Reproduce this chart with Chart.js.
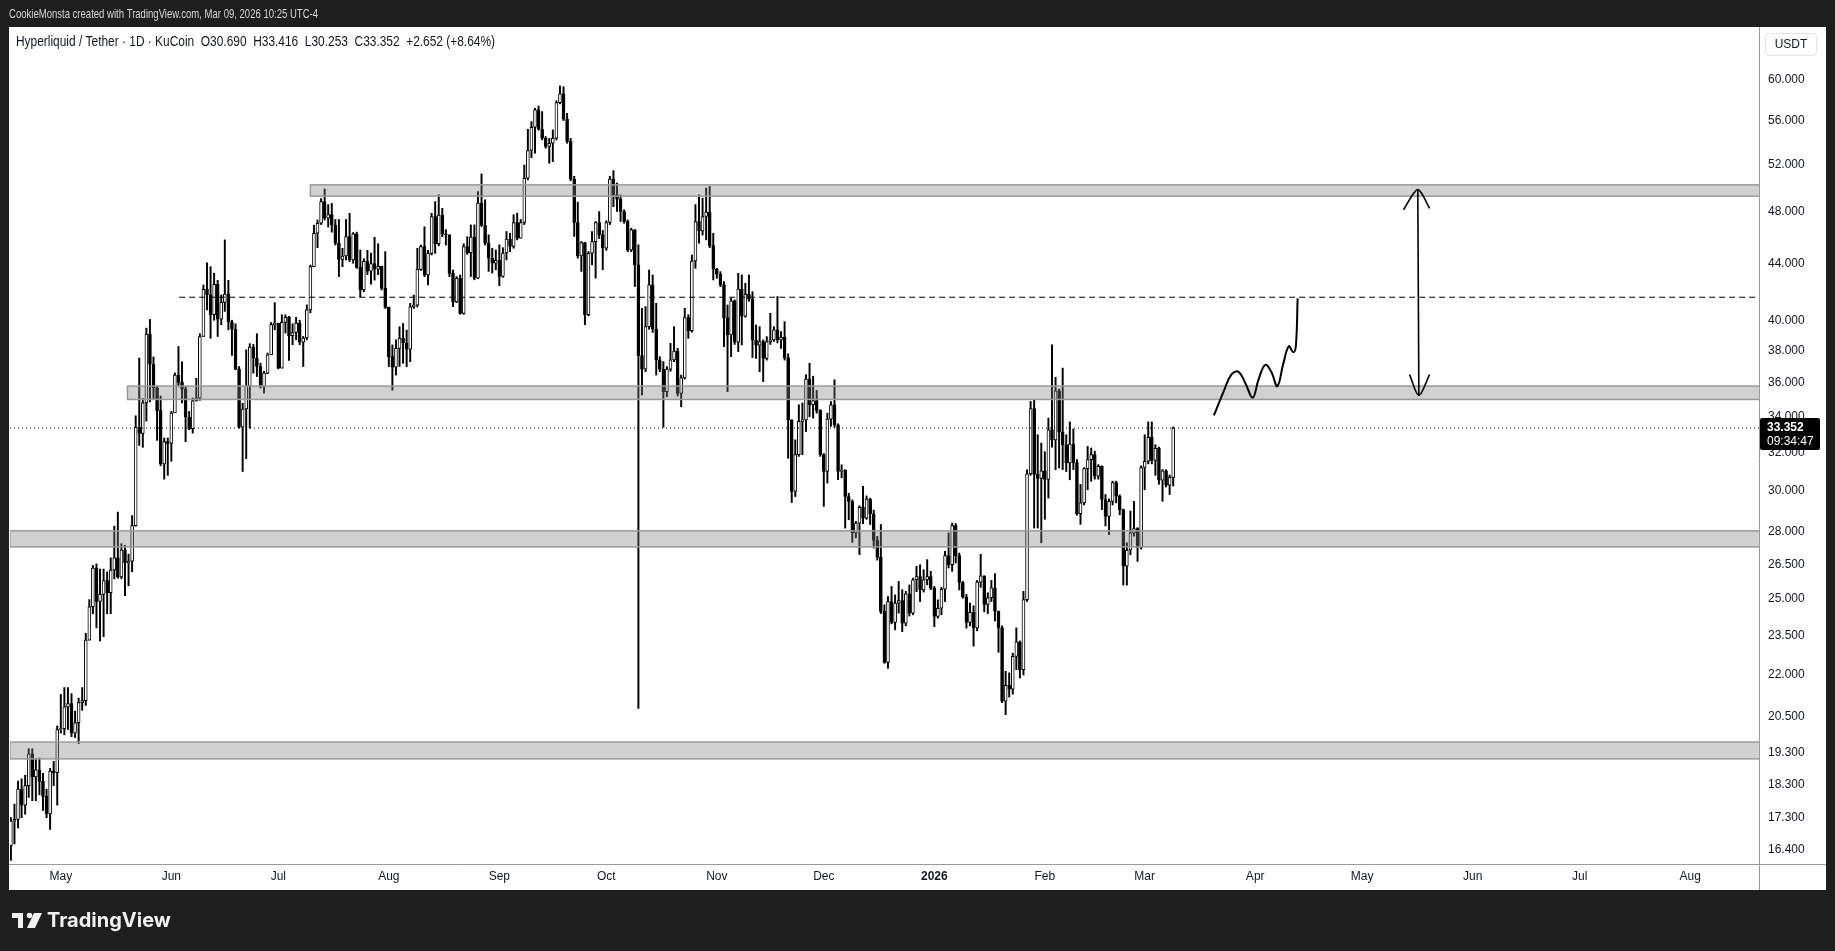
<!DOCTYPE html>
<html>
<head>
<meta charset="utf-8">
<title>Hyperliquid / Tether 1D</title>
<script src="https://cdn.jsdelivr.net/npm/chart.js@4.4.1/dist/chart.umd.min.js"></script>
<style>
  html, body { margin: 0; padding: 0; background: #1e1e1e; }
  canvas { display: block; }
</style>
</head>
<body>
<canvas id="chart" width="1835" height="951"></canvas>
<script>
// HYPE/USDT daily candles, day 0 = 17 Apr 2025, last = 9 Mar 2026
const firstOpen = 16.5;
const closes = [
  17.2, 17.25, 18.15, 17.67, 18.26, 19.26, 18.53, 18.75, 18.39, 17.93,
  17.41, 18.71, 18.66, 20.07, 20.1, 20.85, 20.97, 19.95, 20.3, 21.0,
  21.07, 23.33, 24.68, 26.34, 24.9, 25.2, 25.8, 25.27, 26.26, 26.8,
  25.95, 27.16, 26.57, 26.65, 28.3, 33.4, 33.06, 34.8, 39.08, 37.14,
  35.7, 34.35, 31.4, 32.6, 32.5, 34.21, 36.47, 36.02, 35.62, 33.98,
  33.32, 34.92, 35.08, 38.92, 42.14, 41.74, 40.37, 42.49, 40.07, 41.22,
  41.81, 39.9, 39.4, 36.84, 33.41, 34.44, 35.81, 38.23, 37.53, 37.0,
  35.78, 36.59, 37.74, 39.7, 39.8, 36.9, 39.85, 40.2, 38.97, 39.18,
  39.8, 38.54, 38.82, 40.7, 43.78, 46.31, 47.1, 48.85, 47.5, 47.8,
  46.96, 45.54, 44.32, 44.57, 46.05, 44.27, 46.26, 43.73, 42.09, 44.18,
  43.45, 44.0, 43.6, 43.8, 42.21, 40.88, 37.62, 36.95, 38.15, 38.79,
  38.51, 38.09, 40.92, 41.03, 43.58, 45.28, 43.17, 44.77, 47.63, 45.5,
  47.76, 46.26, 46.2, 43.29, 41.26, 42.93, 40.46, 45.28, 44.82, 46.01,
  42.94, 48.72, 46.92, 45.54, 44.41, 44.04, 44.24, 43.06, 44.8, 45.86,
  45.29, 47.16, 45.93, 47.16, 50.81, 53.24, 55.37, 57.01, 55.18, 54.35,
  53.6, 53.9, 54.35, 57.71, 58.57, 56.12, 54.07, 50.73, 47.16, 44.58,
  45.6, 40.37, 44.78, 45.67, 47.16, 46.19, 45.16, 47.16, 50.73, 49.41,
  49.05, 48.04, 47.24, 45.03, 46.58, 43.92, 37.68, 36.84, 39.57, 42.45,
  39.41, 37.41, 36.84, 35.46, 36.84, 37.41, 37.98, 35.36, 36.3, 40.18,
  39.3, 44.2, 47.24, 46.49, 47.64, 47.99, 45.36, 43.6, 43.22, 42.45,
  40.18, 39.02, 41.32, 38.54, 42.16, 40.27, 41.78, 41.45, 38.69, 38.36,
  38.58, 37.51, 38.58, 38.69, 39.35, 38.69, 38.86, 37.55, 33.82, 29.97,
  31.89, 33.73, 33.82, 36.23, 34.69, 34.94, 34.36, 31.89, 31.01, 33.86,
  34.69, 33.54, 31.01, 31.06, 29.72, 29.47, 27.95, 28.42, 29.18, 28.66,
  29.59, 28.87, 27.6, 26.84, 24.49, 22.47, 24.9, 24.04, 24.83, 24.94,
  24.01, 25.23, 24.42, 25.83, 25.97, 25.39, 25.83, 25.97, 25.47, 24.28,
  24.62, 25.42, 26.9, 26.5, 28.3, 26.9, 25.71, 25.09, 24.04, 24.45,
  23.82, 25.73, 26.0, 24.78, 25.06, 25.48, 24.5, 23.82, 21.05, 21.62,
  21.48, 22.7, 23.27, 22.2, 24.98, 30.88, 34.47, 30.85, 30.64, 31.04,
  30.59, 33.26, 32.7, 35.52, 33.13, 32.43, 31.45, 32.47, 31.45, 28.87,
  29.4, 31.15, 31.63, 31.9, 30.75, 31.27, 29.57, 28.74, 29.48, 30.42,
  29.74, 29.07, 26.43, 27.16, 27.95, 28.16, 27.28, 31.21, 31.54, 32.84,
  31.58, 32.23, 30.55, 31.04, 30.29, 30.69, 33.352
];
const highs = [
  17.3, 17.7, 18.4, 18.47, 18.58, 19.43, 19.43, 19.1, 19.13, 18.64,
  18.15, 18.8, 19.02, 20.19, 21.29, 21.54, 21.54, 21.32, 20.7, 21.16,
  21.54, 23.6, 24.98, 26.46, 26.53, 26.3, 26.3, 26.18, 26.8, 28.27,
  28.95, 27.45, 27.37, 26.97, 28.78, 34.05, 37.53, 35.06, 39.47, 40.05,
  37.6, 35.8, 35.2, 32.8, 32.8, 34.3, 36.6, 38.27, 37.3, 35.78,
  34.3, 35.08, 36.27, 39.1, 42.45, 44.07, 43.78, 43.3, 42.78, 41.74,
  45.8, 42.78, 40.0, 39.76, 37.0, 34.78, 38.05, 38.45, 38.4, 39.1,
  37.21, 36.7, 37.85, 39.85, 41.2, 39.8, 40.37, 40.37, 40.26, 39.76,
  40.2, 40.0, 38.92, 41.05, 43.9, 46.95, 47.36, 49.1, 49.9, 48.6,
  48.7, 47.4, 47.4, 45.15, 47.4, 47.9, 46.37, 46.4, 45.03, 44.37,
  45.0, 44.8, 46.0, 45.5, 43.78, 44.9, 40.9, 38.37, 38.7, 39.56,
  39.78, 39.34, 41.15, 41.73, 45.15, 45.4, 46.82, 45.0, 47.9, 48.85,
  49.42, 48.3, 46.6, 46.05, 43.53, 43.05, 43.17, 45.5, 46.05, 46.97,
  46.97, 49.68, 51.18, 49.0, 46.19, 45.16, 45.03, 45.42, 45.2, 46.45,
  46.32, 47.78, 47.91, 47.4, 51.96, 55.18, 55.9, 57.17, 57.39, 56.85,
  54.51, 54.35, 55.12, 57.9, 59.36, 59.29, 56.69, 54.35, 50.98, 48.8,
  45.67, 45.6, 44.91, 46.45, 47.24, 48.04, 46.53, 47.3, 50.98, 51.47,
  50.39, 49.41, 48.18, 47.37, 46.71, 46.6, 45.41, 40.81, 40.93, 43.53,
  43.17, 41.16, 37.62, 37.31, 36.99, 38.47, 39.57, 38.15, 36.47, 40.81,
  40.37, 44.65, 48.6, 49.41, 49.13, 49.97, 50.11, 46.31, 43.66, 43.41,
  42.69, 41.04, 41.5, 41.4, 43.29, 43.17, 42.57, 43.17, 41.97, 39.68,
  39.57, 38.7, 38.91, 40.47, 39.57, 41.63, 39.24, 39.9, 37.8, 33.82,
  32.7, 34.69, 34.79, 36.49, 37.2, 36.4, 35.54, 34.4, 31.95, 34.2,
  34.88, 36.18, 33.6, 31.35, 31.1, 29.88, 29.55, 28.5, 29.26, 30.23,
  29.75, 29.64, 29.05, 27.79, 28.35, 24.76, 25.11, 25.54, 25.18, 25.76,
  25.4, 25.33, 25.61, 25.9, 26.42, 26.49, 26.27, 26.72, 26.2, 25.54,
  24.97, 25.5, 27.1, 27.95, 28.42, 28.4, 27.02, 25.76, 25.2, 24.83,
  24.72, 25.8, 26.96, 26.0, 25.27, 25.8, 26.1, 24.5, 23.9, 22.14,
  22.08, 22.82, 23.82, 23.3, 25.33, 31.09, 34.88, 34.96, 32.98, 32.52,
  32.05, 33.92, 38.38, 36.33, 35.62, 36.9, 32.98, 33.7, 33.3, 31.63,
  30.33, 31.2, 32.34, 32.25, 32.08, 31.36, 31.3, 29.82, 29.6, 30.5,
  30.5, 29.8, 29.1, 27.49, 29.0, 29.48, 28.2, 31.3, 32.98, 33.7,
  33.7, 32.43, 32.3, 31.1, 31.1, 30.82, 33.416
];
const lows = [
  16.1, 16.55, 17.0, 17.3, 17.4, 17.9, 17.8, 17.8, 17.98, 17.51,
  17.3, 16.96, 18.26, 17.67, 19.95, 19.89, 20.07, 19.83, 19.8, 19.6,
  20.73, 20.9, 23.33, 24.39, 23.82, 23.3, 23.47, 24.39, 24.39, 25.87,
  25.9, 25.87, 25.15, 25.57, 26.18, 28.27, 32.39, 32.29, 33.75, 34.86,
  35.06, 32.67, 31.3, 30.6, 30.8, 31.54, 34.25, 35.78, 34.8, 32.6,
  33.26, 33.07, 34.9, 34.95, 38.92, 40.7, 38.8, 40.0, 38.92, 39.7,
  40.6, 39.36, 37.7, 36.8, 33.35, 31.0, 31.68, 33.35, 36.59, 36.38,
  35.68, 35.38, 36.55, 37.74, 39.36, 36.85, 36.9, 39.15, 37.38, 38.38,
  38.7, 38.38, 37.0, 38.7, 40.5, 43.78, 45.2, 47.0, 47.36, 46.8,
  46.4, 45.4, 43.05, 43.78, 44.27, 44.15, 44.03, 43.65, 41.62, 41.97,
  43.2, 42.5, 42.8, 43.2, 42.09, 40.8, 36.99, 35.55, 36.47, 37.0,
  37.2, 36.99, 37.3, 40.8, 40.9, 43.5, 43.05, 42.45, 44.65, 44.77,
  45.34, 46.05, 45.4, 43.05, 40.92, 41.2, 40.4, 40.4, 44.7, 43.06,
  42.82, 42.9, 46.84, 45.4, 43.43, 43.31, 43.55, 42.4, 43.0, 44.28,
  44.9, 45.16, 45.8, 45.93, 47.0, 50.67, 52.61, 53.0, 55.1, 54.2,
  53.45, 52.11, 52.26, 54.2, 57.6, 56.0, 53.9, 50.6, 46.07, 44.41,
  43.43, 39.7, 40.3, 43.92, 42.94, 45.9, 43.55, 45.0, 47.0, 48.44,
  48.04, 47.24, 47.1, 44.9, 44.9, 42.34, 20.8, 35.26, 36.68, 39.4,
  39.19, 36.47, 36.68, 33.4, 35.17, 36.7, 37.3, 35.2, 34.57, 36.22,
  38.8, 39.2, 43.66, 45.54, 46.17, 45.8, 45.2, 42.81, 42.93, 42.33,
  38.26, 35.46, 37.62, 38.4, 37.94, 38.37, 40.2, 41.3, 37.56, 37.51,
  36.68, 36.07, 37.4, 38.4, 38.6, 38.5, 38.15, 37.4, 31.7, 29.42,
  29.72, 31.8, 31.89, 33.16, 34.0, 33.92, 34.2, 31.8, 29.23, 30.4,
  33.45, 33.4, 30.58, 30.67, 28.18, 28.58, 27.51, 27.72, 26.95, 28.39,
  28.6, 28.35, 27.25, 26.7, 24.4, 22.44, 22.25, 23.98, 23.74, 24.42,
  23.67, 23.9, 24.3, 24.35, 25.32, 24.9, 25.3, 25.61, 25.4, 23.87,
  24.21, 24.35, 24.9, 26.35, 26.2, 26.57, 25.39, 25.04, 23.81, 23.9,
  23.1, 23.7, 25.5, 24.47, 24.4, 24.9, 24.1, 22.86, 21.0, 20.58,
  21.2, 21.3, 22.2, 21.89, 22.0, 24.9, 30.8, 28.18, 28.18, 27.49,
  28.6, 29.64, 32.3, 31.09, 31.18, 31.1, 31.0, 30.57, 31.1, 28.8,
  28.36, 29.3, 30.06, 30.49, 30.6, 30.6, 29.07, 28.28, 27.87, 29.3,
  29.4, 28.82, 25.6, 25.6, 26.94, 27.8, 26.64, 27.2, 30.06, 31.4,
  31.4, 30.8, 30.34, 29.48, 30.2, 29.82, 30.253
];

// time axis: day index of each month start and its label
const monthTicks = [14, 45, 75, 106, 137, 167, 198, 228, 259, 290, 318, 349, 379, 410, 440, 471];
const monthLabels = ["May", "Jun", "Jul", "Aug", "Sep", "Oct", "Nov", "Dec", "2026", "Feb", "Mar", "Apr", "May", "Jun", "Jul", "Aug"];
const priceTicks = [60, 56, 52, 48, 44, 40, 38, 36, 34, 32, 30, 28, 26.5, 25, 23.5, 22, 20.5, 19.3, 18.3, 17.3, 16.4];

// support / resistance zones
const zoneLows = [49.3, 35.0, 27.3, 19.1];
const zoneHighs = [50.25, 35.8, 28.05, 19.65];
const zoneStartDays = [84, 32.7, -0.25, -0.25];

const dashedLevel = 41.58;
const dashedStartDay = 47.2;
const lastPrice = 33.352;
const lastTime = "09:34:47";

// projection brush and the double arrow
const brushDays = [337.4, 340.1, 342.3, 344.3, 346.3, 348.3, 349.9, 351.8, 353.5, 355.2, 356.8, 358.4, 359.7, 360.4, 360.9];
const brushPrices = [34.07, 35.45, 36.5, 36.67, 35.94, 35.1, 36.17, 37.1, 36.67, 35.8, 37.1, 38.28, 37.9, 38.3, 41.5];
const arrowDays = [394.6, 394.9];
const arrowPrices = [49.85, 35.24];
const arrowTopDays = [390.6, 394.6, 397.9];
const arrowTopPrices = [48.18, 49.85, 48.3];
const arrowBottomDays = [392.3, 394.9, 397.9];
const arrowBottomPrices = [36.5, 35.24, 36.5];

const X_MIN = -0.25;
const X_MAX = 490.3;
const FONT = '"Liberation Sans", Arial, sans-serif';

const opens = closes.map((c, i) => (i === 0 ? firstOpen : closes[i - 1]));
const wickData = closes.map((c, i) => ({ x: i, y: [lows[i], highs[i]] }));
const bodyData = closes.map((c, i) => ({ x: i, y: [opens[i], c] }));
const bodyColors = closes.map((c, i) => (c >= opens[i] ? "#ffffff" : "#000000"));

const toPoints = (xs, ys) => xs.map((x, i) => ({ x: x, y: ys[i] }));

function lineSet(points, extra) {
  return Object.assign({
    type: "line",
    data: points,
    borderColor: "#000000",
    borderWidth: 1,
    pointRadius: 0,
    fill: false,
    order: 1
  }, extra || {});
}

const drawings = {
  id: "drawings",
  beforeDraw(chart) {
    const ctx = chart.ctx;
    ctx.save();
    ctx.fillStyle = "#1e1e1e";
    ctx.fillRect(0, 0, chart.width, chart.height);
    ctx.fillStyle = "#ffffff";
    ctx.fillRect(9, 27, 1817, 863);

    // condensed look of the TradingView snapshot text
    ctx.fillStyle = "#d6d6d6";
    ctx.font = "13px " + FONT;
    ctx.textBaseline = "middle";
    ctx.fillText("CookieMonsta created with TradingView.com, Mar 09, 2026 10:25 UTC-4", 9, 14, 309);

    ctx.fillStyle = "#131722";
    ctx.font = "14px " + FONT;
    ctx.fillText("Hyperliquid / Tether \u00b7 1D \u00b7 KuCoin  O30.690  H33.416  L30.253  C33.352  +2.652 (+8.64%)", 16, 42, 479);
    ctx.restore();
  },
  afterDatasetDraw(chart, args) {
    // zones sit on top of the candles, under the hand drawings
    if (args.index !== 1) return;
    const ctx = chart.ctx;
    const xs = chart.scales.x;
    const ys = chart.scales.y;
    const area = chart.chartArea;
    ctx.save();
    ctx.beginPath();
    ctx.rect(area.left, area.top, area.right - area.left, area.bottom - area.top);
    ctx.clip();
    zoneLows.forEach((lo, i) => {
      const x0 = Math.max(xs.getPixelForValue(zoneStartDays[i]), area.left);
      const yTop = ys.getPixelForValue(zoneHighs[i]);
      const yBot = ys.getPixelForValue(zoneLows[i]);
      ctx.fillStyle = "rgba(128, 128, 128, 0.36)";
      ctx.fillRect(x0, yTop, area.right - x0, yBot - yTop);
      ctx.strokeStyle = "#9a9a9a";
      ctx.lineWidth = 1.5;
      ctx.strokeRect(x0, yTop, area.right - x0 + 2, yBot - yTop);
    });
    ctx.restore();
  },
  afterDraw(chart) {
    const ctx = chart.ctx;
    const area = chart.chartArea;
    const ys = chart.scales.y;
    ctx.save();

    // pane borders
    ctx.strokeStyle = "#9a9a9a";
    ctx.lineWidth = 1;
    ctx.beginPath();
    ctx.moveTo(area.right + 0.5, 27);
    ctx.lineTo(area.right + 0.5, 890);
    ctx.moveTo(9, area.bottom + 0.5);
    ctx.lineTo(1826, area.bottom + 0.5);
    ctx.stroke();

    // currency box on the price scale
    ctx.strokeStyle = "#e0e3eb";
    ctx.fillStyle = "#ffffff";
    ctx.beginPath();
    ctx.roundRect(1765.5, 33.5, 51, 22, 4);
    ctx.fill();
    ctx.stroke();
    ctx.fillStyle = "#131722";
    ctx.font = "12px " + FONT;
    ctx.textAlign = "center";
    ctx.textBaseline = "middle";
    ctx.fillText("USDT", 1791, 45);

    // last price label
    const yp = ys.getPixelForValue(lastPrice);
    ctx.fillStyle = "#000000";
    ctx.beginPath();
    ctx.roundRect(area.right + 1, yp - 10, 60, 32, 2);
    ctx.fill();
    ctx.fillStyle = "#ffffff";
    ctx.textAlign = "left";
    ctx.font = "bold 12px " + FONT;
    ctx.fillText(lastPrice.toFixed(3), area.right + 8, yp);
    ctx.font = "12px " + FONT;
    ctx.fillText(lastTime, area.right + 8, yp + 14);

    // footer logo
    ctx.fillStyle = "#f0f0f0";
    ctx.fillRect(12, 913, 11, 5);
    ctx.fillRect(18, 913, 5, 15);
    ctx.beginPath();
    ctx.arc(29.5, 915.5, 2.8, 0, Math.PI * 2);
    ctx.fill();
    ctx.beginPath();
    ctx.moveTo(34, 913);
    ctx.lineTo(42, 913);
    ctx.lineTo(35, 928);
    ctx.lineTo(27, 928);
    ctx.closePath();
    ctx.fill();
    ctx.font = 'bold 20px Inter, "Open Sans", sans-serif';
    ctx.textBaseline = "middle";
    ctx.fillText("TradingView", 47, 921);
    ctx.restore();
  }
};

const ctx = document.getElementById("chart").getContext("2d");
const chart = new Chart(ctx, {
  type: "bar",
  data: {
    datasets: [
      {
        label: "wicks",
        data: wickData,
        backgroundColor: "#000000",
        barThickness: 1.3,
        grouped: false,
        order: 5
      },
      {
        label: "bodies",
        data: bodyData,
        backgroundColor: bodyColors,
        borderColor: "#000000",
        borderWidth: 1,
        borderSkipped: false,
        barThickness: 3,
        grouped: false,
        order: 4
      },
      lineSet([{ x: X_MIN, y: lastPrice }, { x: X_MAX, y: lastPrice }], { borderDash: [1, 3] }),
      lineSet([{ x: dashedStartDay, y: dashedLevel }, { x: X_MAX, y: dashedLevel }], { borderDash: [6, 4] }),
      lineSet(toPoints(brushDays, brushPrices), { borderWidth: 2, tension: 0.4 }),
      lineSet(toPoints(arrowDays, arrowPrices), { borderWidth: 1.6 }),
      lineSet(toPoints(arrowTopDays, arrowTopPrices), { borderWidth: 1.6, tension: 0.3 }),
      lineSet(toPoints(arrowBottomDays, arrowBottomPrices), { borderWidth: 1.6, tension: 0.3 })
    ]
  },
  options: {
    responsive: false,
    animation: false,
    events: [],
    layout: { padding: { left: 10, right: 10, top: 28, bottom: 61 } },
    plugins: {
      legend: { display: false },
      tooltip: { enabled: false }
    },
    scales: {
      x: {
        type: "linear",
        min: X_MIN,
        max: X_MAX,
        offset: false,
        grid: { display: false, drawTicks: false },
        border: { display: false },
        afterBuildTicks: (scale) => { scale.ticks = monthTicks.map((v) => ({ value: v })); },
        afterFit: (scale) => { scale.height = 26; },
        ticks: {
          autoSkip: false,
          maxRotation: 0,
          minRotation: 0,
          padding: 5,
          color: "#131722",
          font: (c) => ({ family: FONT, size: 12, weight: monthLabels[c.index] === "2026" ? "bold" : "normal" }),
          callback: (value, index) => monthLabels[index]
        }
      },
      y: {
        type: "logarithmic",
        position: "right",
        min: 16.0,
        max: 65.45,
        grid: { display: false, drawTicks: false },
        border: { display: false },
        afterBuildTicks: (scale) => { scale.ticks = priceTicks.map((v) => ({ value: v })); },
        afterFit: (scale) => { scale.width = 66; },
        ticks: {
          autoSkip: false,
          padding: 9,
          color: "#131722",
          font: { family: FONT, size: 12 },
          callback: (value) => Number(value).toFixed(3)
        }
      }
    }
  },
  plugins: [drawings]
});
</script>
</body>
</html>
